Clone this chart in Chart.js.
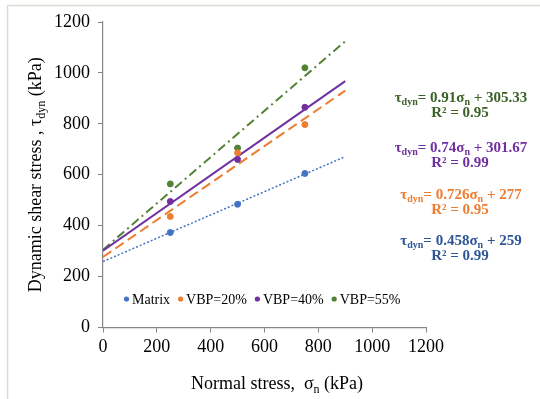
<!DOCTYPE html>
<html lang="en">
<head>
    <meta charset="UTF-8" />
    <title>Dynamic shear stress vs normal stress</title>
    <script src="https://cdn.jsdelivr.net/npm/chart.js"></script>
    <style>
        body { margin: 0; background: #fff; }
        #wrap { position: relative; width: 540px; height: 399px; }
    </style>
</head>
<body>
    <div id="wrap"><canvas id="shearChart"></canvas></div>

    <script>
        // measured points
        const normalStress = [250, 500, 750];
        const matrixVals = [373, 484, 605];
        const vbp20Vals = [436, 686, 797];
        const vbp40Vals = [495, 660, 865];
        const vbp55Vals = [564, 705, 1020];

        // linear fits (from the equations shown)
        const seriesNames = ["Matrix", "VBP=20%", "VBP=40%", "VBP=55%"];
        const slopes = [0.458, 0.726, 0.74, 0.91];
        const intercepts = [259, 277, 301.67, 305.33];
        const r2 = ["0.99", "0.95", "0.99", "0.95"];
        const fitRange = [0, 900];

        const xTicks = [0, 200, 400, 600, 800, 1000, 1200];
        const yTicks = [0, 200, 400, 600, 800, 1000, 1200];

        const pointColors = ["#4472c4", "#ed7d31", "#7030a0", "#548235"];
        const textColors = ["#2f5597", "#ed7d31", "#7030a0", "#3b6128"];
        const dashes = [[2, 2], [10, 5], [], [9, 4, 2, 4]];
        const serif = "'Liberation Serif', 'Times New Roman', serif";

        const values = [matrixVals, vbp20Vals, vbp40Vals, vbp55Vals];
        const datasets = [];
        values.forEach((vals, i) => {
            datasets.push({
                label: seriesNames[i],
                data: normalStress.map((x, j) => ({x: x, y: vals[j]})),
                showLine: false,
                backgroundColor: pointColors[i],
                borderColor: pointColors[i],
                pointRadius: 3,
                order: 1
            });
        });
        values.forEach((vals, i) => {
            datasets.push({
                label: seriesNames[i] + " fit",
                data: fitRange.map(x => ({x: x, y: slopes[i] * x + intercepts[i]})),
                showLine: true,
                pointRadius: 0,
                borderColor: pointColors[i],
                borderWidth: i == 0 ? 1.5 : 2,
                borderDash: dashes[i],
                fill: false,
                order: 2
            });
        });

        // text with subscript parts: [[text, isSub], ...]
        function partsWidth(ctx, parts, size, subSize, weight) {
            let w = 0;
            parts.forEach(p => {
                ctx.font = `${weight} ${p[1] ? subSize : size}px ${serif}`;
                w += ctx.measureText(p[0]).width;
            });
            return w;
        }
        function drawParts(ctx, parts, x, y, size, subSize, weight) {
            let cx = x;
            parts.forEach(p => {
                ctx.font = `${weight} ${p[1] ? subSize : size}px ${serif}`;
                ctx.fillText(p[0], cx, p[1] ? y + size * 0.3 : y);
                cx += ctx.measureText(p[0]).width;
            });
        }

        const extras = {
            id: "extras",
            beforeDraw(chart) {
                const ctx = chart.ctx;
                ctx.save();
                ctx.strokeStyle = "#d9ded5";
                ctx.lineWidth = 1.5;
                ctx.strokeRect(7.5, 5.5, 560, 420);
                ctx.restore();
            },
            afterDraw(chart) {
                const ctx = chart.ctx;
                const ys = chart.scales.y;
                ctx.save();
                ctx.fillStyle = "#000";
                ctx.textBaseline = "middle";

                // x title
                const xt = [["Normal stress,  \u03c3", false], ["n", true], [" (kPa)", false]];
                const xw = partsWidth(ctx, xt, 18, 12, "normal");
                drawParts(ctx, xt, 277 - xw / 2, 384, 18, 12, "normal");

                // y title
                const yt = [["Dynamic shear stress , \u03c4", false], ["dyn", true], [" (kPa)", false]];
                const yw = partsWidth(ctx, yt, 18, 12, "normal");
                ctx.save();
                ctx.translate(36, (ys.top + ys.bottom) / 2);
                ctx.rotate(-Math.PI / 2);
                drawParts(ctx, yt, -yw / 2, 0, 18, 12, "normal");
                ctx.restore();

                // legend inside the plot
                let lx = 124;
                const ly = 299;
                seriesNames.forEach((name, i) => {
                    ctx.fillStyle = pointColors[i];
                    ctx.beginPath();
                    ctx.arc(lx + 2.5, ly, 2.6, 0, Math.PI * 2);
                    ctx.fill();
                    ctx.fillStyle = "#000";
                    ctx.font = `14px ${serif}`;
                    ctx.fillText(name, lx + 8, ly + 1);
                    lx += 8 + ctx.measureText(name).width + 8;
                });

                // fit equations
                const eqY = [241, 195, 148, 98];
                [3, 2, 1, 0].forEach(i => {
                    ctx.fillStyle = textColors[i];
                    const eq = [["\u03c4", false], ["dyn", true], ["= " + slopes[i] + "\u03c3", false], ["n", true], [" + " + intercepts[i], false]];
                    const w = partsWidth(ctx, eq, 15, 10, "bold");
                    drawParts(ctx, eq, 461 - w / 2, eqY[i], 15, 10, "bold");
                    const rr = [["R\u00b2 = " + r2[i], false]];
                    const w2 = partsWidth(ctx, rr, 15, 10, "bold");
                    drawParts(ctx, rr, 460 - w2 / 2, eqY[i] + 15, 15, 10, "bold");
                });
                ctx.restore();
            }
        };

        const axisGray = "#868686";
        new Chart(document.getElementById("shearChart"), {
            type: "scatter",
            data: {datasets: datasets},
            plugins: [extras],
            options: {
                responsive: true,
                maintainAspectRatio: false,
                animation: false,
                layout: {padding: {left: 0, right: 114, top: 22, bottom: 0}},
                plugins: {legend: {display: false}, tooltip: {enabled: false}},
                scales: {
                    x: {
                        type: "linear",
                        min: 0, max: 1200,
                        afterBuildTicks: s => { s.ticks = xTicks.map(v => ({value: v})); },
                        afterFit: s => { s.height = 71.5; },
                        ticks: {color: "#000", font: {family: serif, size: 18}, padding: 4, maxRotation: 0,
                                callback: v => String(v)},
                        grid: {drawOnChartArea: false, color: axisGray, tickLength: 5, lineWidth: 1},
                        border: {color: axisGray, width: 1.2}
                    },
                    y: {
                        type: "linear",
                        min: 0, max: 1200,
                        afterBuildTicks: s => { s.ticks = yTicks.map(v => ({value: v})); },
                        afterFit: s => { s.width = 103; },
                        ticks: {color: "#000", font: {family: serif, size: 18}, padding: 8,
                                callback: v => String(v)},
                        grid: {drawOnChartArea: false, color: axisGray, tickLength: 5, lineWidth: 1},
                        border: {color: axisGray, width: 1.2}
                    }
                }
            }
        });
    </script>
</body>
</html>
